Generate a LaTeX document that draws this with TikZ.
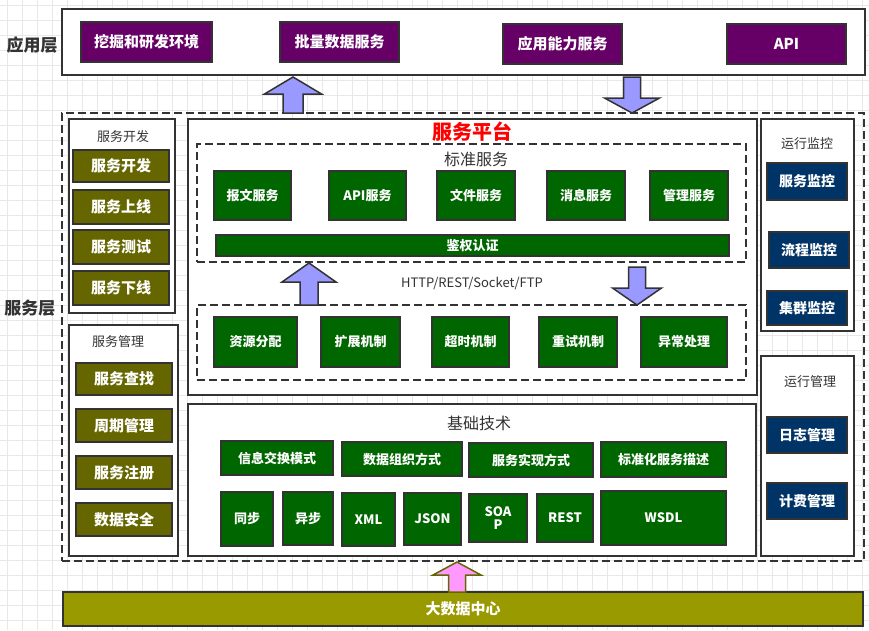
\documentclass[tikz,border=0pt]{standalone}
\usepackage{fontspec}
\setmainfont{Noto Sans CJK SC}
\definecolor{pur}{HTML}{660066}
\definecolor{oli}{HTML}{666600}
\definecolor{grn}{HTML}{006600}
\definecolor{nav}{HTML}{003366}
\definecolor{arr}{HTML}{9999FF}
\definecolor{pnk}{HTML}{FF99FF}
\definecolor{bdc}{HTML}{999900}
\definecolor{edgec}{HTML}{333333}
\definecolor{gridc}{HTML}{E8E8E8}
\newcommand\bx[7]{\node[#6, minimum width={(#4)-(#2)}, minimum height={(#5)-(#3)}] (#1) at ({((#2)+(#4))/2},{((#3)+(#5))/2}) {#7};}
\newcommand\blockarr[7]{\draw[#7] (#1,#2) -- ({#1+#3},{#2+#4}) -- ({#1+#5},{#2+#4}) -- ({#1+#5},#6) -- ({#1-#5},#6) -- ({#1-#5},{#2+#4}) -- ({#1-#3},{#2+#4}) -- cycle;}
\tikzset{
  base/.style={draw=edgec, line width=2pt, inner sep=0pt, align=center, text=white, font=\bfseries},
  purbox/.style={base, fill=pur, font=\bfseries\fontsize{15}{17}\selectfont},
  olibox/.style={base, fill=oli, font=\bfseries\fontsize{15}{17}\selectfont},
  grnbox/.style={base, fill=grn, font=\bfseries\fontsize{13}{15}\selectfont},
  navbox/.style={base, fill=nav, font=\bfseries\fontsize{14}{16}\selectfont},
  frame/.style={draw=edgec, line width=1.8pt, fill=white, inner sep=0pt},
  dframe/.style={draw=edgec, line width=1.8pt, dash pattern=on 8pt off 4pt, inner sep=0pt},
  title/.style={text=edgec, inner sep=0pt},
  blk/.style={draw=edgec, line width=1.5pt, fill=arr, line join=miter},
  pblk/.style={draw=oli, line width=1.5pt, fill=pnk, line join=miter}
}
\begin{document}
\begin{tikzpicture}[x=1pt,y=-1pt]
\useasboundingbox (0,0) rectangle (869,630);
\fill[white] (0,0) rectangle (869,630);
\foreach \i in {0,...,57} \draw[gridc, line width=1pt] ({7.5+15*\i},0) -- ({7.5+15*\i},630);
\foreach \j in {0,...,41} \draw[gridc, line width=1pt] (0,{5+15*\j}) -- (869,{5+15*\j});

% application layer
\node[title, font=\bfseries\fontsize{17}{19}\selectfont] (applbl) at (32,45) {应用层};
\bx{appframe}{62}{9}{865}{75}{frame}{}
\bx{a1}{81}{22}{212}{62}{purbox}{挖掘和研发环境}
\bx{a2}{280}{22}{399}{62}{purbox}{批量数据服务}
\bx{a3}{503}{24}{622}{64}{purbox}{应用能力服务}
\bx{a4}{727}{24}{846}{64}{purbox}{API}

% service layer
\node[title, font=\bfseries\fontsize{17}{19}\selectfont] (svclbl) at (30,308) {服务层};
\bx{svcframe}{62}{113}{864}{561}{dframe}{}

% 服务开发
\bx{devframe}{69}{119}{175}{313}{frame}{}
\node[title, font=\fontsize{13}{15}\selectfont] (devt) at (123,137) {服务开发};
\bx{d1}{73}{150}{169}{182}{olibox}{服务开发}
\bx{d2}{73}{190}{169}{224}{olibox}{服务上线}
\bx{d3}{73}{230}{169}{264}{olibox}{服务测试}
\bx{d4}{73}{271}{169}{305}{olibox}{服务下线}

% 服务管理
\bx{mgframe}{69}{325}{178}{556}{frame}{}
\node[title, font=\fontsize{13}{15}\selectfont] (mgt) at (118,342) {服务管理};
\bx{m1}{76}{363}{172}{395}{olibox}{服务查找}
\bx{m2}{76}{409}{172}{442}{olibox}{周期管理}
\bx{m3}{76}{456}{172}{489}{olibox}{服务注册}
\bx{m4}{76}{503}{172}{536}{olibox}{数据安全}

% 服务平台
\bx{platframe}{188}{119}{757}{395}{frame}{}
\node[inner sep=0pt, text=red, font=\bfseries\fontsize{20}{22}\selectfont] (platt) at (472,132) {服务平台};
\bx{stdframe}{197}{144}{746}{262}{dframe}{}
\node[title, font=\fontsize{16}{18}\selectfont] (stdt) at (476,159) {标准服务};
\bx{s1}{214}{171}{291}{220}{grnbox}{报文服务}
\bx{s2}{329}{171}{406}{220}{grnbox}{API服务}
\bx{s3}{437}{171}{515}{220}{grnbox}{文件服务}
\bx{s4}{547}{171}{625}{220}{grnbox}{消息服务}
\bx{s5}{650}{171}{728}{220}{grnbox}{管理服务}
\bx{auth}{216}{235}{729}{256}{grnbox}{鉴权认证}
\node[title, font=\fontsize{13}{15}\selectfont] (proto) at (472,283) {HTTP/REST/Socket/FTP};
\bx{mechframe}{197}{305}{746}{380}{dframe}{}
\bx{r1}{214}{317}{297}{367}{grnbox}{资源分配}
\bx{r2}{321}{317}{400}{367}{grnbox}{扩展机制}
\bx{r3}{432}{317}{509}{367}{grnbox}{超时机制}
\bx{r4}{539}{317}{617}{367}{grnbox}{重试机制}
\bx{r5}{641}{317}{727}{367}{grnbox}{异常处理}

% 基础技术
\bx{techframe}{188}{404}{756}{556}{frame}{}
\node[title, font=\fontsize{16}{18}\selectfont] (techt) at (479,423) {基础技术};
\bx{t1}{221}{441}{333}{475}{grnbox}{信息交换模式}
\bx{t2}{342}{442}{462}{476}{grnbox}{数据组织方式}
\bx{t3}{469}{443}{593}{477}{grnbox}{服务实现方式}
\bx{t4}{601}{442}{726}{477}{grnbox}{标准化服务描述}
\bx{u1}{221}{492}{273}{546}{grnbox}{同步}
\bx{u2}{283}{492}{333}{545}{grnbox}{异步}
\bx{u3}{342}{493}{395}{546}{grnbox}{XML}
\bx{u4}{404}{493}{461}{545}{grnbox}{JSON}
\bx{u5}{469}{494}{527}{542}{grnbox}{SOA\\[-2pt]P}
\bx{u6}{537}{494}{593}{542}{grnbox}{REST}
\bx{u7}{601}{491}{726}{545}{grnbox}{WSDL}

% 运行监控
\bx{monframe}{761}{119}{854}{331}{frame}{}
\node[title, font=\fontsize{13}{15}\selectfont] (mont) at (807,144) {运行监控};
\bx{o1}{767}{163}{847}{200}{navbox}{服务监控}
\bx{o2}{769}{232}{849}{268}{navbox}{流程监控}
\bx{o3}{767}{291}{847}{325}{navbox}{集群监控}

% 运行管理
\bx{opframe}{761}{356}{854}{556}{frame}{}
\node[title, font=\fontsize{13}{15}\selectfont] (opt) at (810,382) {运行管理};
\bx{p1}{767}{417}{847}{453}{navbox}{日志管理}
\bx{p2}{767}{483}{847}{519}{navbox}{计费管理}

% 大数据中心
\bx{bigdata}{63}{592}{863}{626}{base, fill=bdc, font=\bfseries\fontsize{15}{17}\selectfont}{大数据中心}

% block arrows
\blockarr{293}{77}{28.5}{17}{10}{113}{blk}
\blockarr{632}{113}{27.5}{-15}{8.5}{77}{blk}
\blockarr{309}{263}{27}{19}{9}{305}{blk}
\blockarr{637}{305}{24.5}{-17}{8.5}{267}{blk}
\blockarr{457}{562}{24}{13}{8.5}{592}{pblk}
\end{tikzpicture}
\end{document}
